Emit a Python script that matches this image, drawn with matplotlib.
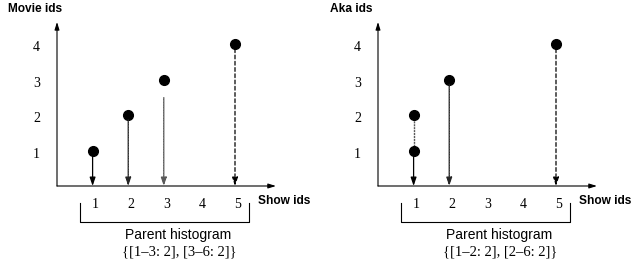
import matplotlib
matplotlib.use('Agg')
import matplotlib.pyplot as plt

# data
show_ticks = [1, 2, 3, 4, 5]
id_ticks = [1, 2, 3, 4]

movie_x = [1, 2, 3, 5]
movie_y = [1, 2, 3, 4]
aka_x = [1, 1, 2, 5]
aka_y = [1, 2, 3, 4]

left_label = 'Movie ids'
right_label = 'Aka ids'
movie_hist = '{[1\u20133: 2], [3\u20136: 2]}'
aka_hist = '{[1\u20132: 2], [2\u20136: 2]}'

SERIF = 'Liberation Serif'
SANS = 'Liberation Sans'
X_UNIT = 35.6
Y_UNIT = 35.5


def make_axes(fig, left_px, origin_px):
    ax = fig.add_axes([left_px / 634, 0, 317 / 634, 1])
    ax.set_xlim(-origin_px / X_UNIT, (317 - origin_px) / X_UNIT)
    ax.set_ylim(-78 / Y_UNIT, 186 / Y_UNIT)
    ax.axis('off')
    # axes with arrows
    head = '-|>,head_length=0.45,head_width=0.14'
    ax.annotate('', xy=(0, 4.62), xytext=(0, 0),
                arrowprops=dict(arrowstyle=head, lw=0.8, color='k',
                                shrinkA=0, shrinkB=0))
    ax.annotate('', xy=(6.15, 0), xytext=(0, 0),
                arrowprops=dict(arrowstyle=head, lw=0.8, color='k',
                                shrinkA=0, shrinkB=0))
    for v in id_ticks:
        ax.text(-0.57, v - 0.1, str(v), ha='center', va='center',
                fontsize=10, family=SERIF)
    for v in show_ticks:
        ax.text(v + 0.08, -0.53, str(v), ha='center', va='center',
                fontsize=10, family=SERIF)
    ax.text(5.66, -0.43, 'Show ids', ha='left', va='center',
            fontsize=8.6, family=SANS, fontweight='bold')
    # bracket under the show ids
    ax.plot([0.64, 0.64, 5.38, 5.38], [-0.48, -1.0, -1.0, -0.48],
            color='k', lw=0.8)
    ax.text(3.4, -1.38, 'Parent histogram', ha='center', va='center',
            fontsize=10, family=SANS)
    return ax


def arrow(ax, x, y_from, style, color='k', shrink=3.5):
    ax.annotate('', xy=(x, 0), xytext=(x, y_from),
                arrowprops=dict(arrowstyle='-|>,head_length=0.5,head_width=0.17',
                                lw=0.9, color=color, linestyle=style,
                                shrinkA=shrink, shrinkB=0))


fig = plt.figure(figsize=(6.34, 2.64), dpi=100)

dense = (0, (1.5, 0.6))
coarse = (0, (3, 2))

# left panel
ax1 = make_axes(fig, 0, 57)
ax1.text(-1.38, 4.98, left_label, ha='left', va='center',
         fontsize=8.6, family=SANS, fontweight='bold')
ax1.text(3.44, -1.86, movie_hist, ha='center', va='center',
         fontsize=10.5, family=SERIF)
arrow(ax1, movie_x[0], movie_y[0], '-')
arrow(ax1, movie_x[1], movie_y[1], dense, color='0.15')
arrow(ax1, movie_x[2], movie_y[2], dense, color='0.35', shrink=13)
arrow(ax1, movie_x[3], movie_y[3], coarse)
ax1.plot(movie_x, movie_y, 'o', color='k', markersize=7, linestyle='none')

# right panel
ax2 = make_axes(fig, 317, 61)
ax2.text(-1.35, 4.98, right_label, ha='left', va='center',
         fontsize=8.6, family=SANS, fontweight='bold')
ax2.text(3.44, -1.86, aka_hist, ha='center', va='center',
         fontsize=10.5, family=SERIF)
arrow(ax2, aka_x[0], aka_y[0], '-')
ax2.plot([aka_x[1], aka_x[0]], [aka_y[1], aka_y[0]], color='0.35',
         lw=1.0, linestyle=dense)
arrow(ax2, aka_x[2], aka_y[2], dense, color='0.15')
arrow(ax2, aka_x[3], aka_y[3], coarse)
ax2.plot(aka_x, aka_y, 'o', color='k', markersize=7, linestyle='none')

fig.savefig('out.png', dpi=100)
